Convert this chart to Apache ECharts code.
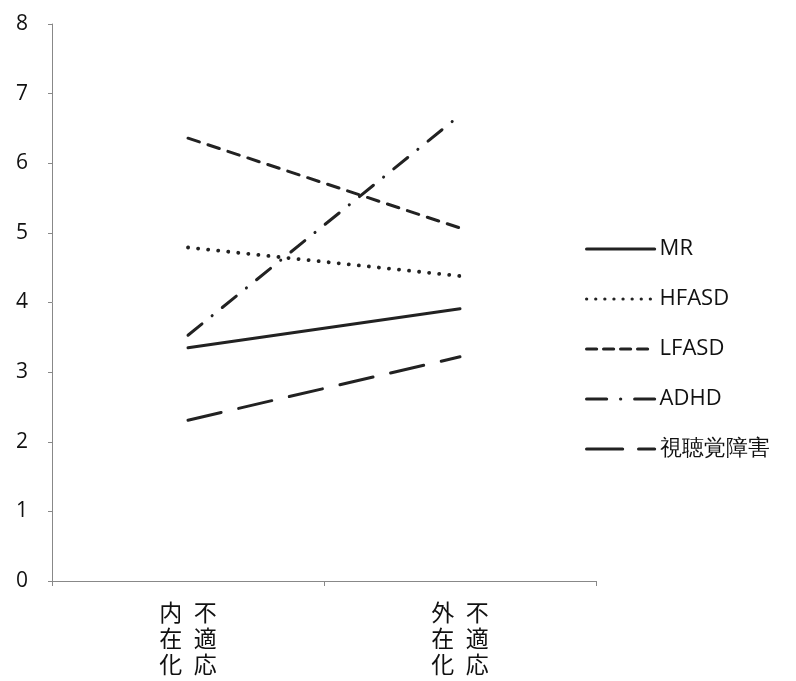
<!DOCTYPE html>
<html><head><meta charset="utf-8">
<script src="https://cdn.jsdelivr.net/npm/echarts@6/dist/echarts.min.js"></script>
<style>html,body{margin:0;padding:0;background:#fff}#c{width:796px;height:681px}</style>
</head><body><div id="c"></div>
<script>
const categories = ['内\u2002不\n在\u2002適\n化\u2002応', '外\u2002不\n在\u2002適\n化\u2002応'];
const seriesNames = ['MR', 'HFASD', 'LFASD', 'ADHD', '視聴覚障害'];
const MR = [3.35, 3.91];
const HFASD = [4.79, 4.38];
const LFASD = [6.36, 5.07];
const ADHD = [3.53, 6.69];
const VH = [2.31, 3.22];
const yTicks = [0, 1, 2, 3, 4, 5, 6, 7, 8];

const values = [MR, HFASD, LFASD, ADHD, VH];
const dashes = ['solid', [0.1, 10], [12, 9], [18, 13, 0.1, 13], [34, 18]];
const legendDashes = ['solid', [0.1, 9], [10, 7], [20, 14, 0.1, 14], [36, 16]];
const widths = [3, 3.8, 3, 3, 3];
const chart = echarts.init(document.getElementById('c'));
chart.setOption({
  animation: false,
  grid: {left: 52, right: 200, top: 24, bottom: 100},
  xAxis: {
    type: 'category', data: categories, boundaryGap: true,
    axisLine: {lineStyle: {color: '#888', width: 1}},
    axisTick: {show: true, length: 5, lineStyle: {color: '#888'}},
    axisLabel: {color: '#111', fontSize: 23, lineHeight: 26, margin: 18,
      fontFamily: 'Noto Sans CJK JP'}
  },
  yAxis: {
    type: 'value', min: 0, max: 8, interval: 1,
    splitLine: {show: false},
    axisLine: {show: true, lineStyle: {color: '#888', width: 1}},
    axisTick: {show: true, length: 4, lineStyle: {color: '#888'}},
    axisLabel: {color: '#111', fontSize: 21, margin: 24,
      fontFamily: 'Open Sans',
      formatter: v => yTicks.includes(v) ? String(v) : ''}
  },
  legend: {
    orient: 'vertical', left: 585, top: 238, itemGap: 28, padding: 0,
    itemWidth: 68, itemHeight: 22,
    itemStyle: {opacity: 0},
    textStyle: {color: '#111', fontSize: 22, fontFamily: 'Open Sans'},
    data: seriesNames.map((n, i) => ({name: n,
      lineStyle: {color: '#222', width: 3.2, type: legendDashes[i], cap: 'round'}}))
  },
  series: seriesNames.map((n, i) => ({
    name: n, type: 'line', data: values[i], symbol: 'none', showSymbol: false,
    lineStyle: {color: '#222', width: widths[i], type: dashes[i], cap: 'round'},
    itemStyle: {color: '#222'}
  }))
});
</script></body></html>
